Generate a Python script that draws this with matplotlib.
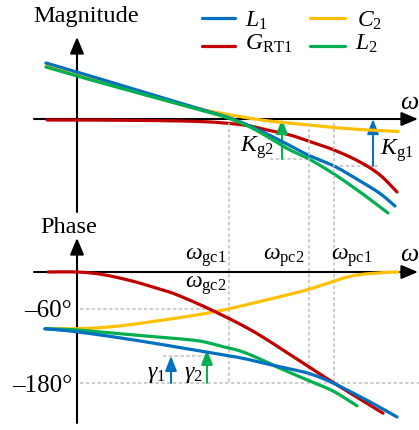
import matplotlib
matplotlib.use("Agg")
import matplotlib.pyplot as plt
import numpy as np

SERIF = 'Liberation Serif'
plt.rcParams['font.family'] = [SERIF, 'DejaVu Serif']
plt.rcParams['font.serif'] = [SERIF, 'DejaVu Serif']
plt.rcParams['mathtext.fontset'] = 'custom'
plt.rcParams['mathtext.rm'] = SERIF
plt.rcParams['mathtext.it'] = SERIF + ':italic'
plt.rcParams['mathtext.bf'] = SERIF + ':bold'

# ---------------- data (schematic Bode diagram) ----------------
# magnitude panel
w_L1_mag = [-31, 0, 43, 83, 123, 153, 173, 188, 208, 231, 257, 283, 303, 318]
L1_mag = [56, 47, 34, 22, 10, 1, -7, -14, -24, -36, -47, -62, -74.5, -87]

w_L2_mag = [-31, 0, 43, 83, 123, 148, 173, 196, 213, 232, 257, 283, 311]
L2_mag = [52, 43, 31, 20, 9, 2, -8, -21, -31, -40, -55, -73, -94]

w_C2_mag = [-31, 0, 43, 83, 123, 148, 168, 188, 206, 232, 257, 283, 321]
C2_mag = [53, 44, 32, 21, 10, 5, 1.5, -1.5, -3.5, -6, -8.5, -10.5, -12.5]

w_G_mag = [-30, 0, 73, 123, 153, 173, 188, 213, 231, 257, 283, 303, 320]
G_mag = [-1, -1, -1.5, -2.5, -4.5, -7, -10.5, -16, -22, -31, -43, -56, -73]

# phase panel (degrees)
w_G_ph = [-29, 0, 25, 56, 83, 100, 135, 176, 216, 257, 306]
G_ph = [0, 0, -4, -15, -28, -37, -62, -96, -137, -180, -229]

w_C2_ph = [-32, 0, 33, 73, 136, 190, 232, 273, 306, 321]
C2_ph = [-92, -92, -89, -81, -65, -45, -28, -7, -1, 0]

w_L2_ph = [-32, 0, 56, 93, 123, 143, 163, 183, 200, 230, 256, 280]
L2_ph = [-92, -94, -102, -107, -112, -120, -128, -141, -154, -175, -193, -217]

w_L1_ph = [-32, 0, 56, 123, 163, 190, 213, 233, 256, 290, 320]
L1_ph = [-92, -97, -110, -128, -139, -149, -157, -165, -180, -208, -235]

# characteristic frequencies and margins
w_gc = 152
w_pc2 = 232
w_pc1 = 257
Kg2_w, Kg2_level = 205, -40
Kg1_w, Kg1_level = 296, -47
gamma1_w, gamma1_top = 94, -136
gamma2_w, gamma2_top = 130, -126
phase_ticks = [-60, -180]
phase_tick_labels = ['\u201360\u00b0', '\u2013180\u00b0']

legend_labels = [r'$L_{\mathrm{1}}$', r'$C_{\mathrm{2}}$', r'$G_{\mathrm{RT1}}$', r'$L_{\mathrm{2}}$']

# ---------------- colours / styles ----------------
BLUE = '#0070C0'
RED = '#C00000'
YEL = '#FFC000'
GRN = '#00B050'
GRAY = '#BFBFBF'
LW = 2.3
FS = 17

W, H = 419, 430
fig = plt.figure(figsize=(W / 100, H / 100), dpi=100)
ax1 = fig.add_axes([0, 0, 1, 1])
ax2 = fig.add_axes([0, 0, 1, 1])
for a in (ax1, ax2):
    a.set_axis_off()
    a.patch.set_alpha(0)
    a.set_xlim(-77, W - 77)
ax1.set_ylim(119 - H, 119)
PS = 0.6167  # px per degree
ax2.set_ylim((272 - H) / PS, 272 / PS)


def smooth(x, y, n=24):
    """Catmull-Rom rendering through the read points (drawing only)."""
    x = np.asarray(x, float)
    y = np.asarray(y, float)
    P = np.column_stack([x, y])
    P = np.vstack([2 * P[0] - P[1], P, 2 * P[-1] - P[-2]])
    out = []
    t = np.linspace(0, 1, n, endpoint=False)[:, None]
    for i in range(1, len(P) - 2):
        p0, p1, p2, p3 = P[i - 1], P[i], P[i + 1], P[i + 2]
        seg = 0.5 * ((2 * p1) + (-p0 + p2) * t + (2 * p0 - 5 * p1 + 4 * p2 - p3) * t ** 2
                     + (-p0 + 3 * p1 - 3 * p2 + p3) * t ** 3)
        out.append(seg)
    out.append(P[-2][None, :])
    out = np.vstack(out)
    return out[:, 0], out[:, 1]


def curve(ax, x, y, color, z):
    sx, sy = smooth(x, y)
    ax.plot(sx, sy, color=color, lw=LW, solid_capstyle='round', zorder=z)


def px(x, y):
    return (x / W, 1 - y / H)


def arrow(ax, tail, tip, color, lw, hl, hw, ms=10):
    ax.annotate('', xy=tip, xytext=tail,
                arrowprops=dict(arrowstyle=f'-|>,head_length={hl},head_width={hw}',
                                color=color, lw=lw, shrinkA=0, shrinkB=0,
                                mutation_scale=ms))

dash = (0, (2.2, 1.6))
dkw = dict(color=GRAY, lw=1.1, ls=dash, zorder=1)

# vertical dashed guide lines (span both panels)
for wv in (w_gc, w_pc2, w_pc1):
    ax2.plot([wv, wv], [(272 - 123) / PS, -180], **dkw)
# horizontal dashed guides
ax1.plot([193, w_pc2], [Kg2_level, Kg2_level], **dkw)
ax1.plot([w_pc1, 303], [Kg1_level, Kg1_level], **dkw)
ax2.plot([3, 136], [-60, -60], **dkw)
ax2.plot([3, W - 77], [-180, -180], **dkw)
ax2.plot([86, 128], [gamma1_top, gamma1_top], **dkw)

# axes arrows
arrow(ax1, (-43, 0), (341, 0), 'black', 1.5, 1.0, 0.42)
arrow(ax1, (0, -93), (0, 82), 'black', 1.5, 1.0, 0.42)
arrow(ax2, (-43, 0), (341, 0), 'black', 1.5, 1.0, 0.42)
arrow(ax2, (0, (272 - 423) / PS), (0, (272 - 238) / PS), 'black', 1.5, 1.0, 0.42)

# magnitude curves
curve(ax1, w_G_mag, G_mag, RED, 3)
curve(ax1, w_L1_mag, L1_mag, BLUE, 4)
curve(ax1, w_C2_mag, C2_mag, YEL, 3.5)
curve(ax1, w_L2_mag, L2_mag, GRN, 4.5)

# phase curves
curve(ax2, w_C2_ph, C2_ph, YEL, 3)
curve(ax2, w_G_ph, G_ph, RED, 3.5)
curve(ax2, w_L2_ph, L2_ph, GRN, 4)
curve(ax2, w_L1_ph, L1_ph, BLUE, 4.5)

# margin arrows
arrow(ax1, (Kg2_w, Kg2_level), (Kg2_w, 0), GRN, 1.4, 0.9, 0.35)
arrow(ax1, (Kg1_w, Kg1_level), (Kg1_w, 0), BLUE, 1.4, 0.9, 0.35)
arrow(ax2, (gamma1_w, -180), (gamma1_w, gamma1_top), BLUE, 1.4, 0.9, 0.35)
arrow(ax2, (gamma2_w, -180), (gamma2_w, gamma2_top), GRN, 1.4, 0.9, 0.35)

# legend
leg_rows = [(18, BLUE, YEL), (46, RED, GRN)]
for y, c1, c2 in leg_rows:
    fig.add_artist(plt.Line2D([202 / W, 235 / W], [1 - y / H] * 2, color=c1, lw=LW,
                              solid_capstyle='round'))
    fig.add_artist(plt.Line2D([310 / W, 345 / W], [1 - y / H] * 2, color=c2, lw=LW,
                              solid_capstyle='round'))
tk = dict(fontsize=FS, va='baseline', family=SERIF)
fig.text(*px(245, 27), legend_labels[0], **tk)
fig.text(*px(357, 27), legend_labels[1], **tk)
fig.text(*px(245, 50), legend_labels[2], **tk)
fig.text(*px(355, 50), legend_labels[3], **tk)

# titles and labels
fig.text(*px(33, 22), 'Magnitude', fontsize=FS + 0.5, va='baseline', family=SERIF)
fig.text(*px(40, 233), 'Phase', fontsize=FS + 0.5, va='baseline', family=SERIF)
fig.text(*px(400, 109), r'$\omega$', fontsize=FS + 1.5, va='baseline', family=SERIF)
fig.text(*px(400, 261), r'$\omega$', fontsize=FS + 1.5, va='baseline', family=SERIF)

fig.text(*px(72, 317), phase_tick_labels[0], fontsize=FS + 1, ha='right', va='baseline', family=SERIF)
fig.text(*px(72, 392), phase_tick_labels[1], fontsize=FS + 1, ha='right', va='baseline', family=SERIF)

fig.text(*px(227, 260), r'$\omega_{\mathrm{gc1}}$', ha='right', **tk)
fig.text(*px(227, 288), r'$\omega_{\mathrm{gc2}}$', ha='right', **tk)
fig.text(*px(305, 260), r'$\omega_{\mathrm{pc2}}$', ha='right', **tk)
fig.text(*px(373, 260), r'$\omega_{\mathrm{pc1}}$', ha='right', **tk)

fig.text(*px(240, 152), r'$K_{\mathrm{g2}}$', **tk)
fig.text(*px(380, 155), r'$K_{\mathrm{g1}}$', **tk)
fig.text(*px(147, 378), r'$\gamma_{\mathrm{1}}$', **tk)
fig.text(*px(184, 378), r'$\gamma_{\mathrm{2}}$', **tk)

fig.savefig('out.png', dpi=100)
